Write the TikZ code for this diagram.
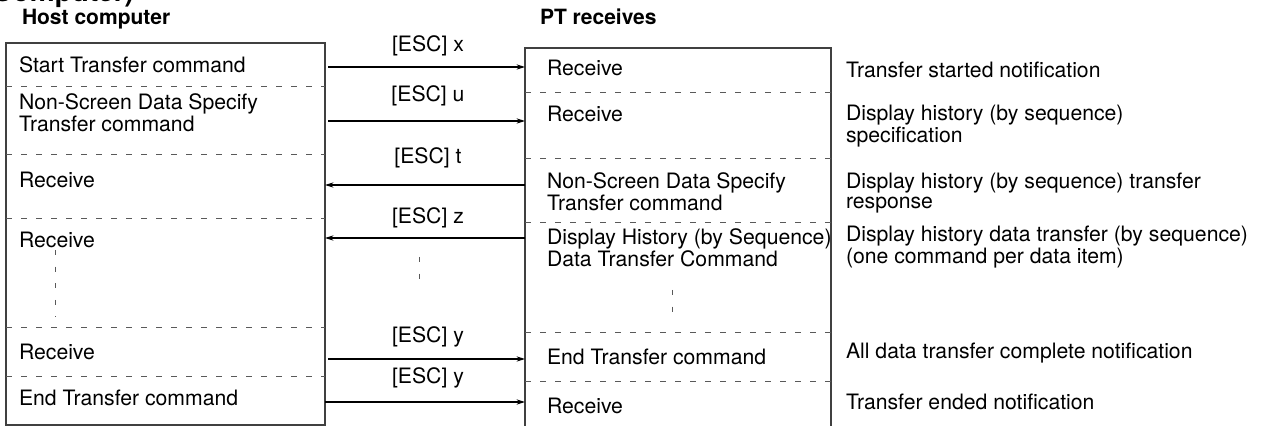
\documentclass[tikz,border=0pt]{standalone}
\usepackage{fontspec}
\setmainfont{TeX Gyre Heros}
\usepackage{tikz}
\usetikzlibrary{arrows}
\usetikzlibrary{arrows.meta}
\usetikzlibrary{positioning}

\begin{document}
\begin{tikzpicture}[x=0.5pt,y=-0.5pt,>={Stealth[length=4.2pt,width=2.6pt]},
                    font=\fontsize{10.6}{10}\selectfont,
                    every node/.style=     {inner sep=0pt,outer sep=0pt},
                    frame/.style=          {draw=black!75,line width=0.6pt,anchor=north west},
                    sep line/.style=       {draw=black!65,line width=0.5pt,dash pattern=on 3pt off 4.5pt},
                    gap mark/.style=       {draw=black!65,line width=0.5pt,dash pattern=on 2.5pt off 5.8pt},
                    title/.style=          {font=\fontsize{10.5}{10}\bfseries,anchor=base west},
                    txt/.style=            {anchor=west,align=left},
                    msg/.style=            {line width=0.55pt,->}]
      \useasboundingbox (0,0) rectangle (1272,426);
      \clip (0,0) rectangle (1272,426);
      \node[title,font=\fontsize{14}{14}\bfseries,anchor=base east] (top) at (134,2) {Computer)};
      \node[title] (hc) at (22,25) {Host computer};
      \node[title] (pr) at (540,25) {PT receives};
      \node[frame,minimum width=159.5pt,minimum height=191pt] (host) at (6,43) {};
      \node[frame,minimum width=153pt,minimum height=200pt] (pt) at (525,48) {};
      \draw[sep line] (6,87) -- (325,87);
      \draw[sep line] (6,155) -- (325,155);
      \draw[sep line] (6,219) -- (325,219);
      \draw[sep line] (6,328) -- (325,328);
      \draw[sep line] (6,377) -- (325,377);
      \draw[sep line] (525,93) -- (831,93);
      \draw[sep line] (525,159) -- (831,159);
      \draw[sep line] (525,223) -- (831,223);
      \draw[sep line] (525,333) -- (831,333);
      \draw[sep line] (525,382) -- (831,382);
      \node[txt] (h1) at (19,65) {Start Transfer command};
      \node[txt] (h2) at (19,113) {Non-Screen Data Specify\\Transfer command};
      \node[txt] (h3) at (19,180) {Receive};
      \node[txt] (h4) at (19,240) {Receive};
      \node[txt] (h5) at (19,352) {Receive};
      \node[txt] (h6) at (19,398) {End Transfer command};
      \node[txt] (p1) at (547,68) {Receive};
      \node[txt] (p2) at (547,114) {Receive};
      \node[txt] (p3) at (547,192) {Non-Screen Data Specify\\Transfer command};
      \node[txt] (p4) at (547,248) {Display History (by Sequence)\\Data Transfer Command};
      \node[txt] (p5) at (547,357) {End Transfer command};
      \node[txt] (p6) at (547,406) {Receive};
      \node[txt] (n1) at (846,70) {Transfer started notification};
      \node[txt] (n2) at (846,126) {Display history (by sequence)\\specification};
      \node[txt] (n3) at (846,193) {Display history (by sequence) transfer\\response};
      \node[txt] (n4) at (846,247) {Display history data transfer (by sequence)\\(one command per data item)};
      \node[txt] (n5) at (846,353) {All data transfer complete notification};
      \node[txt] (n6) at (846,402) {Transfer ended notification};
      \node (e1) at (428,46) {[ESC] x};
      \node (e2) at (428,96) {[ESC] u};
      \node (e3) at (428,158) {[ESC] t};
      \node (e4) at (428,218) {[ESC] z};
      \node (e5) at (428,337) {[ESC] y};
      \node (e6) at (428,378) {[ESC] y};
      \coordinate (a1) at (428,67);
      \coordinate (a2) at (428,121);
      \coordinate (a3) at (428,185);
      \coordinate (a4) at (428,238);
      \coordinate (a5) at (428,359);
      \coordinate (a6) at (428,402);
      \draw[msg,shorten <=1.5pt] (host.east |- a1) -- (pt.west |- a1);
      \draw[msg,shorten <=1.5pt] (host.east |- a2) -- (pt.west |- a2);
      \draw[msg] (pt.west |- a3) -- (host.east |- a3);
      \draw[msg] (pt.west |- a4) -- (host.east |- a4);
      \draw[msg,shorten <=1.5pt] (host.east |- a5) -- (pt.west |- a5);
      \draw[msg] (host.east |- a6) -- (pt.west |- a6);
      \draw[gap mark] (55,250) -- (55,317);
      \draw[gap mark] (419,257) -- (419,282);
      \draw[gap mark] (672,290) -- (672,317);
\end{tikzpicture}
\end{document}
